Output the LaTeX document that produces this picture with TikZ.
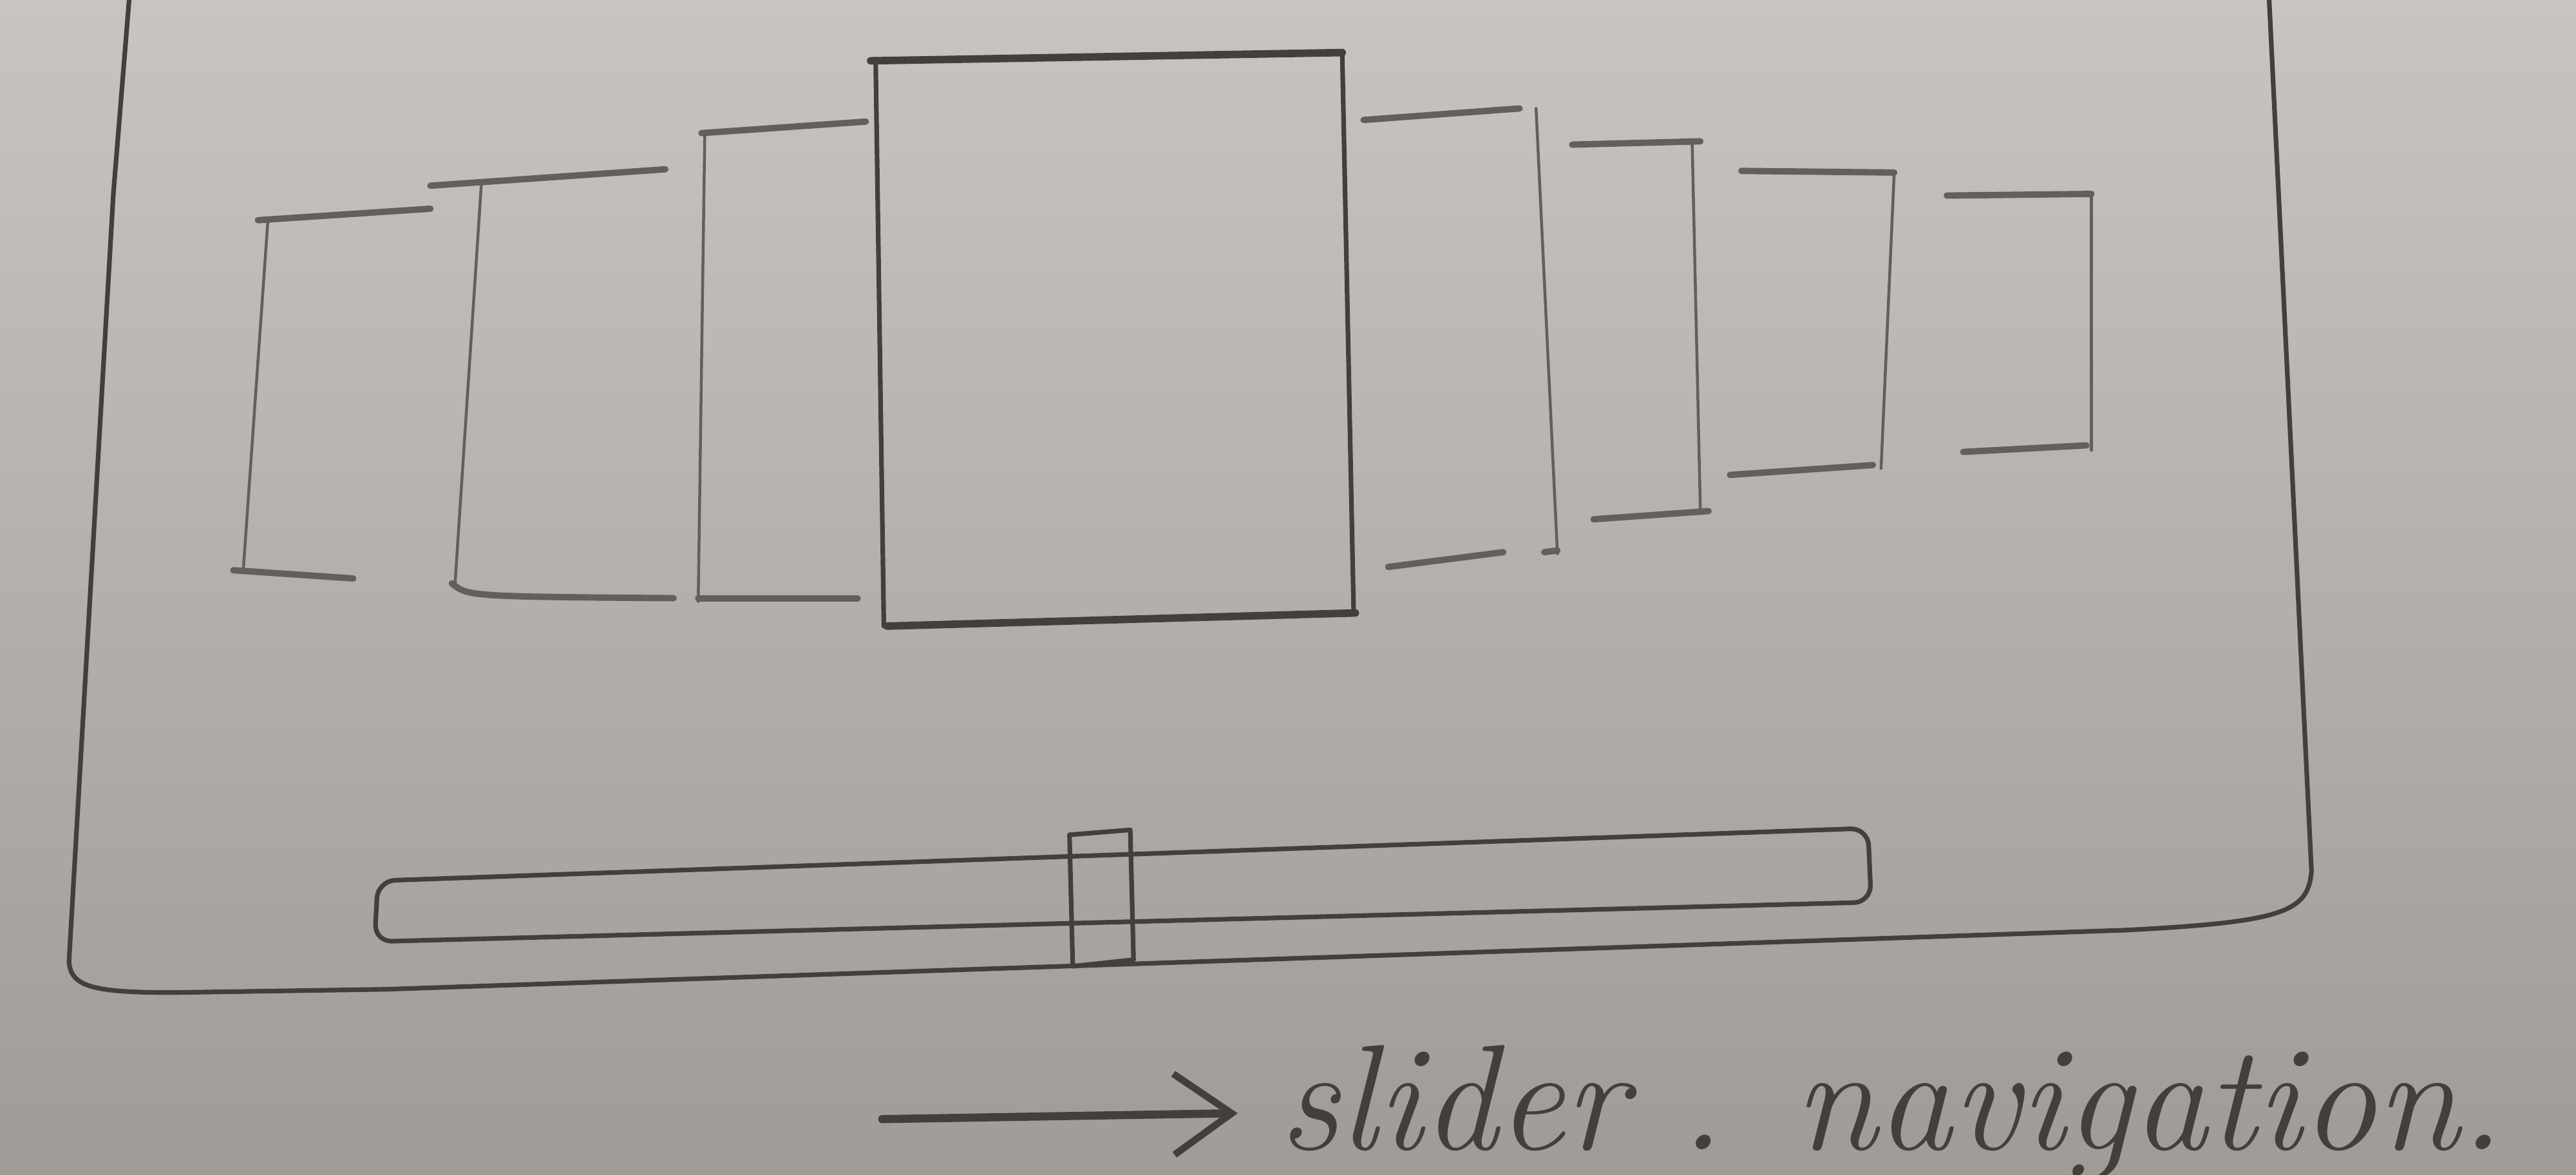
\documentclass[tikz,border=0pt]{standalone}
\usetikzlibrary{arrows.meta}
\definecolor{paper}{RGB}{200,196,192}
\definecolor{paperdark}{RGB}{160,155,151}
\definecolor{pencil}{RGB}{66,63,61}
\definecolor{lightpencil}{RGB}{98,95,93}

\tikzset{
  frameline/.style={color=pencil,line width=0.8pt,line cap=round,line join=round},
  panel/.style={color=lightpencil,line width=0.5pt,line cap=round},
  paneledge/.style={color=lightpencil,line width=1.1pt,line cap=round},
  mainpanel/.style={color=pencil,line width=0.8pt,line cap=round},
  mainedge/.style={color=pencil,line width=1.3pt,line cap=round},
  navarrow/.style={color=pencil,line width=1.4pt,line cap=round,
    -{Straight Barb[length=10pt,width=14pt,line width=1.2pt]},shorten >=7pt},
  navtext/.style={color=pencil,inner sep=0pt,anchor=west,
    font=\fontsize{26}{30}\selectfont\itshape}
}

\begin{document}
\begin{tikzpicture}[line join=round,x=0.01cm,y=-0.01cm]
    \shade[top color=paper,bottom color=paperdark] (0,0) rectangle (1568,715);
    \useasboundingbox (0,0) rectangle (1568,715);
    \clip (0,0) rectangle (1568,715);
    \draw[frameline] (79,-5) -- (69,118) -- (42,585)
        .. controls (43,600) and (55,604) .. (105,604) -- (235,602)
        -- (1176,570) -- (1294,566)
        .. controls (1390,561) and (1405,555) .. (1407,530) -- (1381,-5);
    % panels on the left
    \draw[paneledge] (157,134) -- (262,127);
    \draw[panel] (163,135) -- (148,348);
    \draw[paneledge] (142,347) -- (215,352);
    \draw[paneledge] (262,113) -- (405,103);
    \draw[panel] (293,112) -- (277,355);
    \draw[paneledge] (275,355) .. controls (285,363) .. (410,364);
    \draw[paneledge] (427,81) -- (527,74);
    \draw[panel] (429,81) -- (425,366);
    \draw[paneledge] (425,364) -- (522,364);
    % the big one
    \draw[mainedge] (530,37) -- (817,32);
    \draw[mainpanel] (533,36) -- (538,381);
    \draw[mainedge] (540,381) -- (825,373);
    \draw[mainpanel] (817,32) -- (824,373);
    % panels on the right
    \draw[paneledge] (830,73) -- (925,66);
    \draw[panel] (935,66) -- (948,337);
    \draw[paneledge] (845,345) -- (915,336);
    \draw[paneledge] (940,336) -- (948,335);
    \draw[paneledge] (957,88) -- (1035,86);
    \draw[panel] (1030,86) -- (1035,311);
    \draw[paneledge] (970,316) -- (1040,311);
    \draw[paneledge] (1060,104) -- (1153,105);
    \draw[panel] (1153,105) -- (1145,285);
    \draw[paneledge] (1053,289) -- (1140,283);
    \draw[paneledge] (1185,119) -- (1273,118);
    \draw[panel] (1273,118) -- (1273,274);
    \draw[paneledge] (1195,275) -- (1270,271);
    % slider
    \draw[frameline,rounded corners=3pt] (230,536) -- (1137,504) -- (1139,549) -- (228,573) -- cycle;
    \draw[frameline] (651,508) -- (688,505) -- (690,584) -- (653,588) -- cycle;
    \coordinate (arrowtail) at (537,681);
    \node[navtext] (navlabel) at (778,677) {slider . navigation.};
    \draw[navarrow] (arrowtail) -- (navlabel.west);
\end{tikzpicture}
\end{document}
